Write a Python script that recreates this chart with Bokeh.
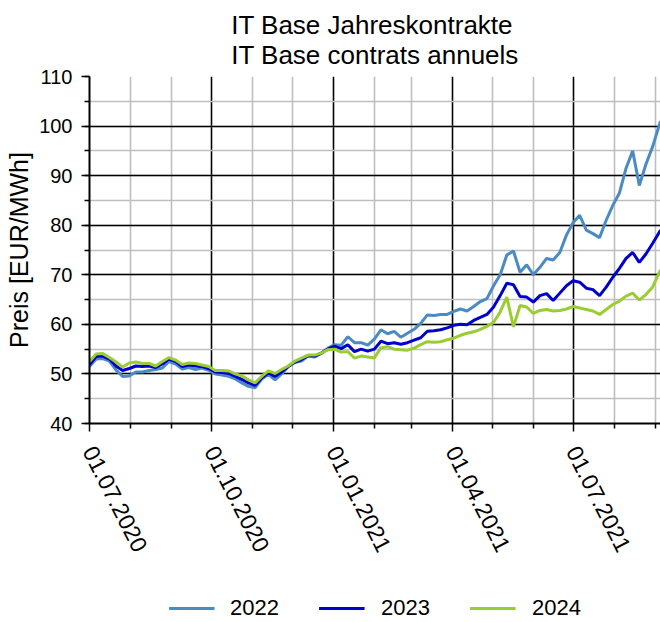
import pandas as pd
from bokeh.plotting import figure
from bokeh.layouts import column
from bokeh.models import (FixedTicker, SingleIntervalTicker, DatetimeTickFormatter,
                          Legend, LegendItem, Range1d, ColumnDataSource, Title)
from bokeh.embed import file_html
from bokeh.resources import INLINE

# ---- data ----
dates = list(pd.date_range("2020-07-01", periods=86, freq="5D")) + [pd.Timestamp("2021-09-05")]

price_2022 = [
    51.5, 53.0, 53.1, 52.6, 50.8, 49.5, 49.6, 50.4, 50.4, 50.7,
    50.9, 51.2, 52.5, 52.0, 51.0, 51.3, 50.9, 51.2, 50.7, 50.0,
    49.8, 49.5, 49.0, 48.2, 47.5, 47.2, 49.0, 49.9, 48.8, 50.0,
    51.5, 52.3, 52.6, 53.6, 53.4, 54.2, 55.2, 55.9, 55.8, 57.5,
    56.3, 56.3, 55.8, 57.0, 58.9, 58.1, 58.6, 57.4, 58.2, 59.0,
    60.2, 61.9, 61.8, 62.0, 62.0, 62.6, 63.1, 62.7, 63.6, 64.6,
    65.2, 67.8, 70.0, 74.0, 74.8, 70.5, 72.0, 70.0, 71.5, 73.3,
    73.0, 74.5, 78.0, 80.5, 82.0, 79.0, 78.3, 77.5, 81.0, 84.0,
    86.5, 91.5, 95.0, 88.0, 92.3, 95.8, 101.0,
]
price_2023 = [
    51.9, 53.5, 53.6, 53.0, 51.6, 50.7, 51.1, 51.6, 51.5, 51.6,
    51.3, 52.0, 53.0, 52.5, 51.5, 51.8, 51.6, 51.5, 51.1, 50.4,
    50.3, 50.1, 49.5, 48.9, 48.2, 47.7, 49.2, 50.2, 49.5, 50.4,
    51.5, 52.4, 52.9, 53.7, 53.6, 54.2, 55.0, 55.6, 55.1, 55.9,
    54.5, 55.0, 54.6, 55.0, 56.6, 56.1, 56.3, 56.0, 56.3, 56.8,
    57.3, 58.6, 58.7, 58.9, 59.3, 59.8, 60.0, 59.9, 60.8, 61.4,
    62.0, 63.5, 65.8, 68.3, 68.0, 65.6, 65.5, 64.5, 65.8, 66.2,
    64.8, 66.3, 67.8, 68.8, 68.5, 67.3, 67.0, 65.8, 67.5, 69.5,
    71.3, 73.3, 74.5, 72.5, 74.2, 76.3, 79.0,
]
price_2024 = [
    52.5, 54.0, 54.1, 53.3, 52.4, 51.4, 52.2, 52.4, 52.1, 52.1,
    51.6, 52.5, 53.3, 52.8, 51.9, 52.2, 52.1, 51.8, 51.5, 50.7,
    50.7, 50.6, 50.0, 49.6, 48.8, 48.2, 49.5, 50.6, 50.1, 50.9,
    51.6, 52.6, 53.2, 53.8, 53.8, 54.2, 54.9, 55.0, 54.4, 54.5,
    53.2, 53.6, 53.4, 53.2, 55.3, 55.5, 55.0, 54.9, 54.8, 55.2,
    55.9, 56.5, 56.4, 56.5, 56.9, 57.2, 57.8, 58.2, 58.5, 59.0,
    59.6, 60.4, 62.5, 65.5, 59.5, 63.8, 63.5, 62.2, 62.8, 63.0,
    62.7, 62.8, 63.1, 63.6, 63.3, 63.0, 62.7, 62.0, 63.0, 64.0,
    64.7, 65.7, 66.3, 64.9, 66.0, 67.5, 71.0,
]
series_names = ["2022", "2023", "2024"]
series_colors = ["#4A8BC4", "#0000CD", "#9ACD32"]

quarter_ticks = ["2020-07-01", "2020-10-01", "2021-01-01", "2021-04-01", "2021-07-01"]
month_ticks = ["2020-08-01", "2020-09-01", "2020-11-01", "2020-12-01", "2021-02-01",
               "2021-03-01", "2021-05-01", "2021-06-01", "2021-08-01", "2021-09-01"]

title_text = "IT Base Jahreskontrakte\nIT Base contrats annuels"
y_label = "Preis [EUR/MWh]"

def ms(s):
    return pd.Timestamp(s).value // 10**6

src = ColumnDataSource(dict(date=dates, y2022=price_2022, y2023=price_2023, y2024=price_2024))

FONT = "Liberation Sans"

p = figure(width=660, height=594, x_axis_type="datetime", output_backend="svg",
           toolbar_location=None,
           x_range=Range1d(ms("2020-07-01"), ms("2021-09-05")),
           y_range=Range1d(40, 110),
           min_border_left=89, min_border_right=0, min_border_top=10, min_border_bottom=171)
p.outline_line_color = None
p.background_fill_color = "white"
p.border_fill_color = "white"

p.title = Title(text=title_text, align="center", text_font_size="26px", text_font=FONT,
                text_font_style="normal", text_color="black", standoff=14)

# axes
xa = p.xaxis[0]
xa.ticker = FixedTicker(ticks=[ms(t) for t in quarter_ticks], minor_ticks=[ms(t) for t in month_ticks])
fmt = "%d.%m.%Y"
xa.formatter = DatetimeTickFormatter(milliseconds=fmt, seconds=fmt, minsec=fmt, minutes=fmt,
                                     hourmin=fmt, hours=fmt, days=fmt, months=fmt, years=fmt)
xa.major_label_orientation = -1.1
xa.major_label_text_font_size = "23px"
xa.major_label_text_font = FONT
xa.major_label_text_color = "black"
xa.major_label_standoff = 16

ya = p.yaxis[0]
ya.ticker = SingleIntervalTicker(interval=10, num_minor_ticks=2)
ya.major_label_text_font_size = "20px"
ya.major_label_text_font = FONT
ya.major_label_text_color = "black"
ya.major_label_standoff = 9
ya.axis_label = y_label
ya.axis_label_text_font_size = "25px"
ya.axis_label_text_font = FONT
ya.axis_label_text_font_style = "normal"
ya.axis_label_text_color = "black"
ya.axis_label_standoff = 3

for ax in (xa, ya):
    ax.axis_line_color = "black"
    ax.axis_line_width = 2
    ax.major_tick_line_color = "black"
    ax.major_tick_line_width = 1.5
    ax.minor_tick_line_color = "black"
    ax.minor_tick_line_width = 1.5
    ax.major_tick_in = 0
    ax.major_tick_out = 8
    ax.minor_tick_in = 0
    ax.minor_tick_out = 5

for g in (p.xgrid[0], p.ygrid[0]):
    g.grid_line_color = "black"
    g.grid_line_width = 1.6
    g.minor_grid_line_color = "#BEBEBE"
    g.minor_grid_line_width = 1.6

for col, color in zip(["y2022", "y2023", "y2024"], series_colors):
    p.line("date", col, source=src, line_color=color, line_width=3)

# legend strip below the chart (legend keys only, nothing drawn in its frame)
lg = figure(width=660, height=28, output_backend="svg", toolbar_location=None,
            x_range=Range1d(0, 1), y_range=Range1d(0, 1),
            x_axis_location=None, y_axis_location=None,
            min_border_left=87, min_border_right=0, min_border_top=0, min_border_bottom=0)
lg.outline_line_color = None
lg.xgrid.visible = False
lg.ygrid.visible = False
keys = [lg.line(x=[0.5], y=[float("nan")], line_color=c, line_width=3) for c in series_colors]
legend = Legend(items=[LegendItem(label=n, renderers=[k]) for n, k in zip(series_names, keys)],
                orientation="horizontal", location="center",
                label_text_font=FONT, label_text_font_size="22px", label_text_color="black",
                glyph_width=46, glyph_height=26, label_standoff=16, spacing=40,
                padding=0, margin=0, border_line_color=None, background_fill_alpha=0)
lg.add_layout(legend, "center")

layout = column(p, lg, spacing=0)
open("out.html", "w").write(file_html(layout, INLINE))
